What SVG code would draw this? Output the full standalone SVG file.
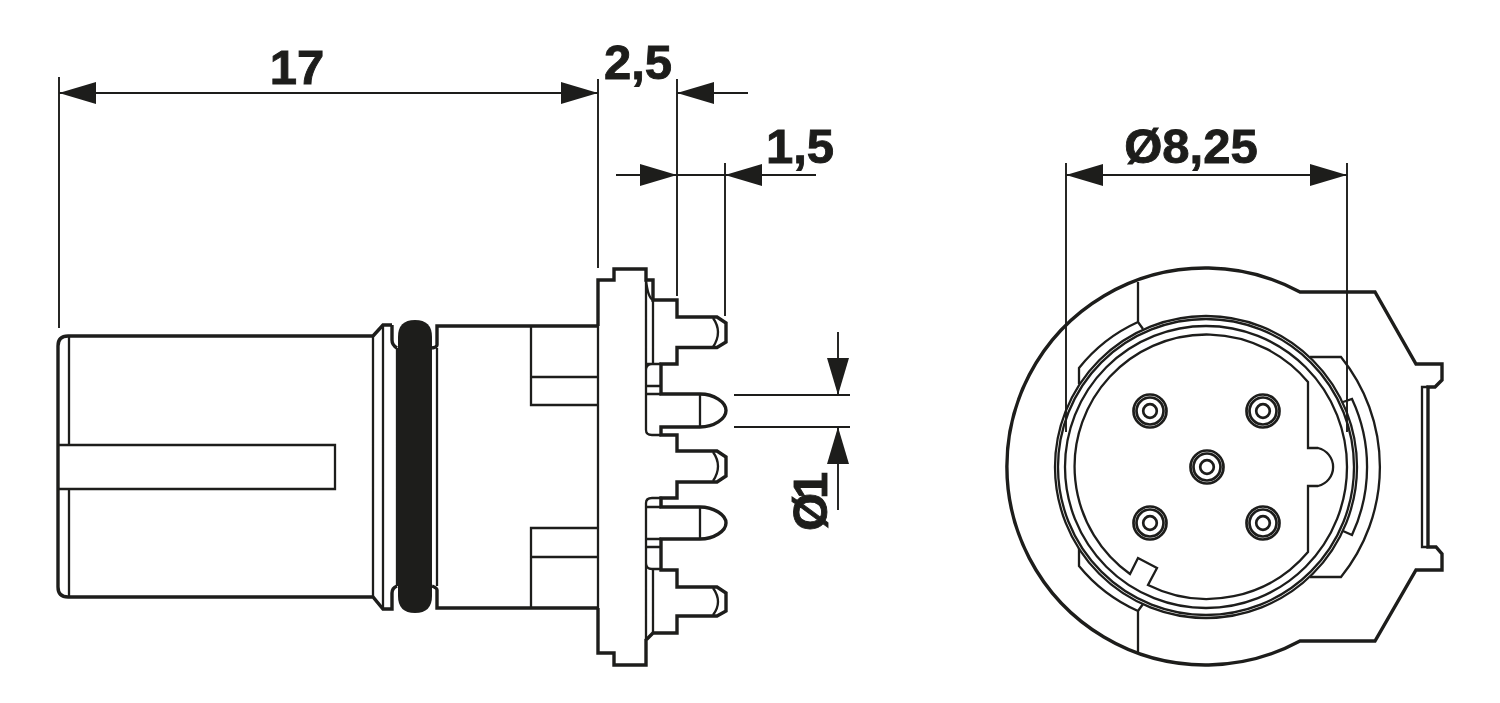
<svg xmlns="http://www.w3.org/2000/svg" width="1500" height="703" viewBox="0 0 1500 703">
<style>
.k{fill:none;stroke:#1d1d1b;stroke-width:3.4;stroke-linejoin:miter;stroke-linecap:butt}
.t{fill:none;stroke:#1d1d1b;stroke-width:2.3;stroke-linecap:butt}
.p{fill:none;stroke:#1d1d1b;stroke-width:2.7}
.d{fill:none;stroke:#1d1d1b;stroke-width:1.9}
.a{fill:none;stroke:#1d1d1b;stroke-width:1.9;marker-end:url(#arrow)}
.lbl{font-family:"Liberation Sans",Arial,sans-serif;font-weight:700;font-size:49px;fill:#1d1d1b;stroke:#1d1d1b;stroke-width:0.9}
</style>
<defs>
<marker id="arrow" markerUnits="userSpaceOnUse" markerWidth="38" markerHeight="24" refX="37" refY="11" orient="auto-start-reverse">
<path d="M0 0L37 11L0 22Z" fill="#1d1d1b"/>
</marker>
<g id="pin"><circle r="16.500" class="p"/><circle r="13.500" class="p"/><circle r="6.800" class="p"/></g>
</defs>
<rect width="1500" height="703" fill="#fff"/>

<g id="side-view">
<path class="k" d="M373 336H68Q58 336 58 346V587Q58 597 68 597H373L383 609H392V593Q392 588 397 586M392 325V340Q392 345 397 348M373 336L383 325H392"/>
<path class="t" d="M69 336V445M69 489V597M58 445H335V489H58M373 336V597M383 325V609M397 348V586"/>
<path fill="#1d1d1b" d="M398 337Q398 320 415 320Q432 320 432 337V596Q432 613 415 613Q398 613 398 596Z"/>
<path class="k" d="M598 326H437V345Q437 347 432 348M598 608H437V590Q437 588 432 586"/>
<path class="t" d="M437 348V586"/>
<path class="t" d="M598 326V608M531 326V405H598M531 377H598M531 608V528H598M531 557H598"/>
<path class="k" d="M598 326V280H614V269H646V280H653V300H677V317H717L726 323V342L717 347.500H677V364H661V394H700C714 394 726 402 726 410.500C726 419 714 427 700 427H661V435H677V451H717L726 457V476L717 482H677V498H661V507H700C714 507 726 515 726 523C726 531 714 539 700 539H661V570H677V587H717L726 593V611L717 616H677V633H653L646 640V665H614V653H598V608"/>
<path class="t" d="M646 280V430Q646 435 652 435H661M646 280Q648 298 653 300V364H646M646 370Q646 364 652 364H661M646 386H661M646 394H661M713 318Q723 332 713 347M700 394V427"/>
<path class="t" d="M713 452Q723 466 713 481M713 588Q723 602 713 615M700 507V539M646 640V503Q646 498 652 498H661V507M646 507H661M646 539H661M646 547H661M646 563Q646 569 652 569H661M653 570V633"/>
</g>

<g id="front-view">
<path class="k" d="M1300 292H1375L1416 364H1442V380L1435 387H1428V547H1436L1442 554V570H1416L1375 641H1300A198.500 198.500 0 1 1 1300 292Z"/>
<path class="t" d="M1428 387H1422V547H1428"/>
<circle class="t" cx="1206" cy="467" r="151"/>
<circle class="t" cx="1206" cy="467" r="148"/>
<circle class="t" cx="1206" cy="467" r="141"/>
<path class="t" d="M1308 382A132 132 0 1 0 1130 574L1138 558L1157 568L1148 585A132 132 0 0 0 1308 552V486H1318A19.500 19.500 0 0 0 1318 448H1308Z"/>
<path class="t" d="M1138 282V322A160 160 0 0 0 1079 368V384M1138 322L1143 329M1079 548V566A160 160 0 0 0 1138 611V653M1138 611L1143 604"/>
<path class="t" d="M1310 357H1341A175 175 0 0 1 1341 577H1310M1343 402L1352 399A161 161 0 0 1 1352 535L1343 531"/>
<use href="#pin" x="1150" y="411"/>
<use href="#pin" x="1263" y="411"/>
<use href="#pin" x="1207" y="467"/>
<use href="#pin" x="1150" y="523"/>
<use href="#pin" x="1263" y="523"/>
</g>

<g id="connectors">
<path class="d" d="M59 77V328M598 79V268M677 79V296M725 163V316M1066 163V432M1347 163V432M734 395H850M734 427H850M677 175H725"/>
<path class="a" d="M598 93H59"/>
<path class="a" d="M59 93H598"/>
<path class="a" d="M748 93H677"/>
<path class="a" d="M616 175H677"/>
<path class="a" d="M816 175H725"/>
<path class="a" d="M838 332V395"/>
<path class="a" d="M838 510V427"/>
<path class="a" d="M1347 175H1066"/>
<path class="a" d="M1066 175H1347"/>
</g>

<g id="labels">
<text class="lbl" x="297" y="83.500" text-anchor="middle">17</text>
<text class="lbl" x="638" y="78.500" text-anchor="middle">2,5</text>
<text class="lbl" x="800" y="162.500" text-anchor="middle">1,5</text>
<text class="lbl" x="1191" y="162.500" text-anchor="middle">Ø8,25</text>
<text class="lbl" transform="translate(827 531) rotate(-90)" letter-spacing="-6">Ø1</text>
</g>
</svg>
